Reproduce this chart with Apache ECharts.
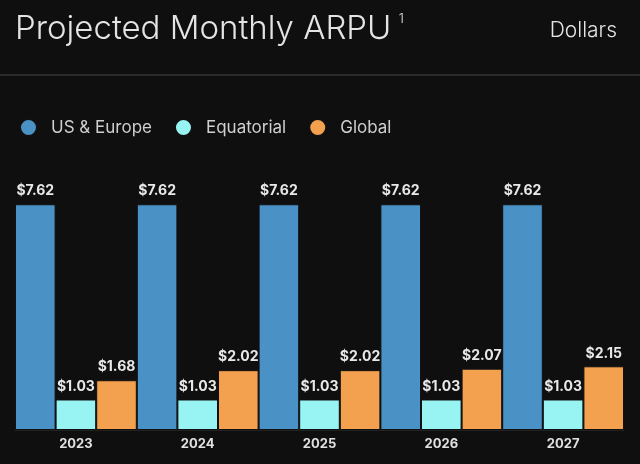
<!DOCTYPE html>
<html><head><meta charset="utf-8">
<script src="https://cdn.jsdelivr.net/npm/echarts@6/dist/echarts.min.js"></script>
<style>html,body{margin:0;padding:0;background:#0f0f0f}#c{width:640px;height:464px}</style>
</head><body><div id="c"></div>
<script>
const years = ['2023','2024','2025','2026','2027'];
const usEurope = [7.62, 7.62, 7.62, 7.62, 7.62];
const equatorial = [1.03, 1.03, 1.03, 1.03, 1.03];
const global = [1.68, 2.02, 2.02, 2.07, 2.15];
const seriesNames = ['US & Europe', 'Equatorial', 'Global'];
const colors = ['#4a92c6', '#98f4f2', '#f4a14f'];

const chart = echarts.init(document.getElementById('c'));
const lbl = {show:true, position:'top', distance:6, color:'#e8e8e8', fontFamily:'Inter', fontWeight:'bold', fontSize:14, formatter: p => '$' + p.value.toFixed(2)};
const mk = (name, data, i) => ({
  name, type:'bar', data, barGap:'0%', barCategoryGap:'0%',
  itemStyle:{color:colors[i], borderColor:'#111', borderWidth:1},
  label: lbl
});
chart.setOption({
  backgroundColor:'#0f0f0f',
  color: colors,
  title:[{
    left:10, top:8,
    text:'{a|Projected Monthly ARPU}{s|  1}',
    textStyle:{rich:{
      a:{fontFamily:'Inter', fontWeight:300, fontSize:33, color:'#e4e4e4'},
      s:{fontFamily:'Inter', fontWeight:300, fontSize:13, color:'#e4e4e4', verticalAlign:'top', padding:[0,0,16,0]}
    }}
  },{
    right:18, top:15, text:'Dollars',
    textStyle:{fontFamily:'Inter', fontWeight:300, fontSize:21, color:'#e4e4e4'}
  }],
  graphic:[{type:'line', shape:{x1:0,y1:75,x2:640,y2:75}, style:{stroke:'#2a2a2a', lineWidth:2}}],
  legend:{
    left:14, top:113, icon:'circle', itemWidth:17, itemHeight:17, itemGap:22,
    textStyle:{color:'#cfcfcf', fontFamily:'Inter', fontSize:17, padding:[0,0,0,9]},
    data: seriesNames
  },
  grid:{left:15, right:16, top:193, bottom:34},
  xAxis:{type:'category', data:years,
    axisLine:{show:true, lineStyle:{color:'#222'}}, axisTick:{show:false},
    axisLabel:{color:'#e0e0e0', fontFamily:'Inter', fontWeight:'bold', fontSize:13, margin:8}},
  yAxis:{type:'value', min:0, max:8, show:false, splitLine:{show:false}},
  series:[mk(seriesNames[0], usEurope, 0), mk(seriesNames[1], equatorial, 1), mk(seriesNames[2], global, 2)]
});
</script></body></html>
